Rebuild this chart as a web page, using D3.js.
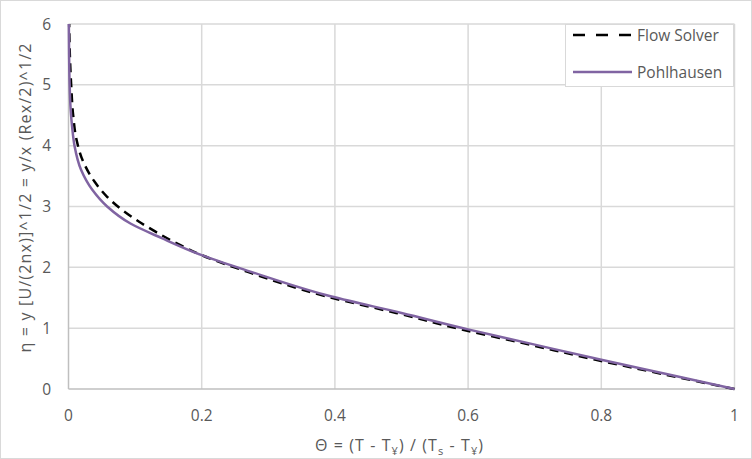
<!DOCTYPE html>
<html>
<head>
<meta charset="utf-8">
<script src="https://cdn.jsdelivr.net/npm/d3@7"></script>
<style>
  body { margin: 0; background: #fff; }
  text { font-family: "Open Sans", "Noto Sans", sans-serif; fill: #595959; }
</style>
</head>
<body>
<svg id="chart" width="752" height="459"></svg>
<script>
// ---------------- data ----------------
var xTicks = [0, 0.2, 0.4, 0.6, 0.8, 1];
var yTicks = [0, 1, 2, 3, 4, 5, 6];
var seriesNames = ["Flow Solver", "Pohlhausen"];

// eta (y) and Theta (x) for each series
var etaSolver   = [0, 0.25, 0.48, 0.75, 0.98, 1.25, 1.52, 1.93, 2.2, 2.38, 2.59, 2.75, 2.94, 3.16, 3.41, 3.74, 4.1, 4.5, 5.0, 5.5, 6.0];
var thetaSolver = [1, 0.89, 0.792, 0.684, 0.59, 0.492, 0.388, 0.268, 0.2, 0.165, 0.13, 0.106, 0.081, 0.058, 0.039, 0.022, 0.012, 0.007, 0.004, 0.002, 0.001];

var etaPohl   = [0, 0.25, 0.48, 0.75, 0.98, 1.25, 1.52, 1.93, 2.2, 2.48, 2.72, 3.0, 3.27, 3.6, 4.0, 4.3, 4.6, 5.0, 5.5, 6.0];
var thetaPohl = [1, 0.896, 0.8, 0.692, 0.6, 0.5, 0.395, 0.273, 0.2, 0.14, 0.093, 0.058, 0.036, 0.019, 0.009, 0.0055, 0.0032, 0.0017, 0.0009, 0.0005];

// ---------------- layout ----------------
var svg = d3.select("#chart");
var plotLeft = 68.5, plotRight = 734.5, plotTop = 24, plotBottom = 389;

svg.append("rect")
  .attr("x", 0.5).attr("y", 0.5)
  .attr("width", 751).attr("height", 458)
  .attr("fill", "#fff")
  .attr("stroke", "#d9d9d9");

var x = d3.scaleLinear().domain([0, 1]).range([plotLeft, plotRight]);
var y = d3.scaleLinear().domain([0, 6]).range([plotBottom, plotTop]);

// gridlines
svg.append("g").selectAll("line")
  .data(yTicks.slice(1))
  .enter().append("line")
  .attr("x1", plotLeft).attr("x2", plotRight)
  .attr("y1", function(d) { return y(d); })
  .attr("y2", function(d) { return y(d); })
  .attr("stroke", "#d9d9d9").attr("stroke-width", 1.5);

svg.append("g").selectAll("line")
  .data(xTicks.slice(1))
  .enter().append("line")
  .attr("x1", function(d) { return x(d); })
  .attr("x2", function(d) { return x(d); })
  .attr("y1", plotTop).attr("y2", plotBottom)
  .attr("stroke", "#d9d9d9").attr("stroke-width", 1.5);

// axes lines
svg.append("line")
  .attr("x1", plotLeft).attr("x2", plotRight).attr("y1", plotBottom).attr("y2", plotBottom)
  .attr("stroke", "#bfbfbf").attr("stroke-width", 1.5);
svg.append("line")
  .attr("x1", plotLeft).attr("x2", plotLeft).attr("y1", plotTop).attr("y2", plotBottom)
  .attr("stroke", "#bfbfbf").attr("stroke-width", 1.5);

// tick labels
svg.append("g").selectAll("text")
  .data(xTicks)
  .enter().append("text")
  .attr("x", function(d) { return x(d); })
  .attr("y", 421)
  .attr("text-anchor", "middle")
  .style("font-size", "15.5px")
  .text(function(d) { return d; });

svg.append("g").selectAll("text")
  .data(yTicks)
  .enter().append("text")
  .attr("x", 51)
  .attr("y", function(d) { return y(d) + 5.5; })
  .attr("text-anchor", "end")
  .style("font-size", "15.5px")
  .text(function(d) { return d; });

// axis titles
var xt = svg.append("text")
  .attr("x", 399).attr("y", 451)
  .attr("text-anchor", "middle")
  .attr("textLength", 168)
  .attr("lengthAdjust", "spacing")
  .style("font-size", "16px");
xt.append("tspan").text("Θ = (T - T");
xt.append("tspan").attr("dy", 4).style("font-size", "11px").text("¥");
xt.append("tspan").attr("dy", -4).text(") / (T");
xt.append("tspan").attr("dy", 4).style("font-size", "11px").text("s");
xt.append("tspan").attr("dy", -4).text(" - T");
xt.append("tspan").attr("dy", 4).style("font-size", "11px").text("¥");
xt.append("tspan").attr("dy", -4).text(")");

svg.append("text")
  .attr("transform", "translate(31,198) rotate(-90)")
  .attr("text-anchor", "middle")
  .attr("textLength", 309)
  .attr("lengthAdjust", "spacing")
  .style("font-size", "16px")
  .text("η = y [U/(2nx)]^1/2 = y/x (Rex/2)^1/2");

// ---------------- series ----------------
var solverData = etaSolver.map(function(e, i) { return {eta: e, theta: thetaSolver[i]}; });
var pohlData = etaPohl.map(function(e, i) { return {eta: e, theta: thetaPohl[i]}; });

var line = d3.line()
  .x(function(d) { return x(d.theta); })
  .y(function(d) { return y(d.eta); })
  .curve(d3.curveMonotoneY);

svg.append("path")
  .datum(solverData)
  .attr("d", line)
  .attr("fill", "none")
  .attr("stroke", "#000")
  .attr("stroke-width", 2.5)
  .attr("stroke-dasharray", "9,6");

svg.append("path")
  .datum(pohlData)
  .attr("d", line)
  .attr("fill", "none")
  .attr("stroke", "#8064a2")
  .attr("stroke-width", 2.5);

// ---------------- legend ----------------
var legend = svg.append("g");
legend.append("rect")
  .attr("x", 565.5).attr("y", 24.5)
  .attr("width", 168).attr("height", 62)
  .attr("fill", "#fff")
  .attr("stroke", "#d9d9d9");

var items = legend.selectAll(".item")
  .data(seriesNames)
  .enter().append("g")
  .attr("class", "item")
  .attr("transform", function(d, i) { return "translate(573," + (35 + i * 37) + ")"; });

items.append("line")
  .attr("x1", 0).attr("x2", 59).attr("y1", 0).attr("y2", 0)
  .attr("stroke", function(d, i) { return i == 0 ? "#000" : "#8064a2"; })
  .attr("stroke-width", 2.5)
  .attr("stroke-dasharray", function(d, i) { return i == 0 ? "12,11" : null; });

items.append("text")
  .attr("x", 64).attr("y", 5.5)
  .style("font-size", "15.5px")
  .text(function(d) { return d; });
</script>
</body>
</html>
